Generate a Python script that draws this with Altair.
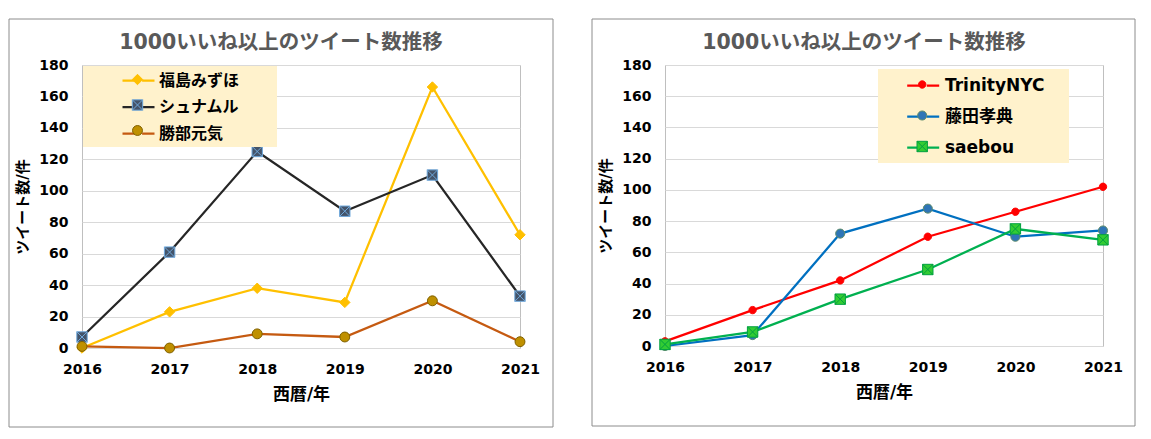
import altair as alt
import pandas as pd

years = [2016, 2017, 2018, 2019, 2020, 2021]

left_names = ["福島みずほ", "シュナムル", "勝部元気"]
fukushima = [0, 23, 38, 29, 166, 72]
shunamuru = [7, 61, 125, 87, 110, 33]
katsube = [1, 0, 9, 7, 30, 4]

right_names = ["TrinityNYC", "藤田孝典", "saebou"]
trinity = [3, 23, 42, 70, 86, 102]
fujita = [0, 7, 72, 88, 70, 74]
saebou = [1, 9, 30, 49, 75, 68]

title_text = "1000いいね以上のツイート数推移"
x_title = "西暦/年"
y_title = "ツイート数/件"
y_ticks = [0, 20, 40, 60, 80, 100, 120, 140, 160, 180]

left_line = ["#FFC000", "#262626", "#C55A11"]
left_fill = ["#FFC000", "#44546A", "#BF9000"]
left_edge = ["#FFC000", "#6FA8DC", "#7F6000"]
right_line = ["#FF0000", "#0070C0", "#00B050"]
right_fill = ["#FF0000", "#2E75B6", "#33CC33"]
right_edge = ["#FF0000", "#5E8C6A", "#00A040"]


def circle(r):
    return f"M{r},0A{r},{r} 0 1,1 -{r},0A{r},{r} 0 1,1 {r},0Z"


def xsquare(h):
    return f"M-{h},-{h}H{h}V{h}H-{h}Z M-{h},-{h}L{h},{h} M{h},-{h}L-{h},{h}"


diamond = "M0,-0.65L0.65,0L0,0.65L-0.65,0Z"
left_shapes = [diamond, xsquare(0.65), circle(0.62)]
right_shapes = [circle(0.46), circle(0.57), xsquare(0.65)]
legend_line = "M-2,0H-0.45M0.45,0H2"

FONT = "DejaVu Sans, Noto Sans CJK JP"


def make_df(names, series):
    rows = []
    for n, vals in zip(names, series):
        for y, v in zip(years, vals):
            rows.append({"year": y, "value": v, "series": n, "series_m": n})
    return pd.DataFrame(rows)


def panel(names, series, line_c, fill_c, edge_c, shapes, w, h, frame,
          lx, ly, pad, rowpad, soff, loff, lsize, extra):
    df = make_df(names, series)
    x = alt.X("year:Q", scale=alt.Scale(domain=[2016, 2021], nice=False, zero=False),
              axis=alt.Axis(values=years, format="d", title=x_title, grid=False, ticks=False,
                            labelFlush=False, labelOverlap=False, labelPadding=14,
                            titlePadding=10, titleFontSize=17, domain=False))
    y = alt.Y("value:Q", scale=alt.Scale(domain=[0, 180], nice=False),
              axis=alt.Axis(values=y_ticks, title=y_title, grid=True, ticks=False,
                            labelPadding=14, titlePadding=8, titleFontSize=15, domain=False))
    common = dict(title=None, orient="none", legendX=lx, legendY=ly, padding=pad,
                  rowPadding=rowpad, symbolSize=256, symbolOffset=soff, labelOffset=loff,
                  labelFontSize=lsize, labelFont=FONT, labelFontWeight="bold",
                  labelColor="black", symbolOpacity=1)
    leg_line = alt.Legend(fillColor="#FFF2CC", symbolType=legend_line, symbolStrokeWidth=2.25,
                          labelExpr="datum.label + '" + extra + "\u200b'",
                          zindex=1, **common)
    leg_mark = alt.Legend(labelOpacity=0, labelExpr="''", symbolStrokeWidth=1, zindex=2,
                          **common)

    fx1, fx2, fy1, fy2 = frame
    frame_rect = alt.Chart(alt.Data(values=[{"k": 1}])).mark_rect(
        fill="transparent", stroke="#8C8C8C", strokeWidth=1
    ).encode(x=alt.value(fx1), x2=alt.value(fx2), y=alt.value(fy1), y2=alt.value(fy2))

    lines = alt.Chart(df).mark_line(strokeWidth=2.25).encode(
        x=x, y=y,
        color=alt.Color("series:N", sort=names, scale=alt.Scale(range=line_c), legend=leg_line),
    )
    points = alt.Chart(df).mark_point(opacity=1, size=256, strokeWidth=1).encode(
        x=x, y=y,
        fill=alt.Fill("series_m:N", scale=alt.Scale(domain=names, range=fill_c), legend=leg_mark),
        stroke=alt.Stroke("series_m:N", scale=alt.Scale(domain=names, range=edge_c), legend=leg_mark),
        shape=alt.Shape("series_m:N", scale=alt.Scale(domain=names, range=shapes), legend=leg_mark),
    )
    return alt.layer(frame_rect, lines, points).properties(
        width=w, height=h,
        title=alt.TitleParams(text=title_text, anchor="middle", frame="group", dx=-20, dy=35,
                              offset=0, fontSize=20.5, font=FONT, fontWeight="bold",
                              color="#595959"),
    )


left = panel(left_names, [fukushima, shunamuru, katsube], left_line, left_fill, left_edge,
             left_shapes, 438, 283, (-73, 471, -46, 362),
             1, 1, 5, 8.5, 41, 11, 16, "\u3000\u3000")
right = panel(right_names, [trinity, fujita, saebou], right_line, right_fill, right_edge,
              right_shapes, 438, 281, (-73, 470, -46, 361),
              213, 4, 7, 13, 28.7, 12.3, 17, "\u3000")

chart = alt.hconcat(left, right, spacing=37).resolve_scale(
    color="independent", fill="independent", stroke="independent", shape="independent"
).properties(
    padding={"left": 0, "top": 10, "right": 0, "bottom": 0}
).configure_axis(
    labelFont=FONT, labelFontSize=14, labelFontWeight="bold", labelColor="black",
    titleFont=FONT, titleFontWeight="bold", titleColor="black",
    gridColor="#D9D9D9", gridWidth=1,
).configure_view(stroke="#BFBFBF", strokeWidth=1)

chart.save("out.html", embed_options={"renderer": "svg", "actions": False})
